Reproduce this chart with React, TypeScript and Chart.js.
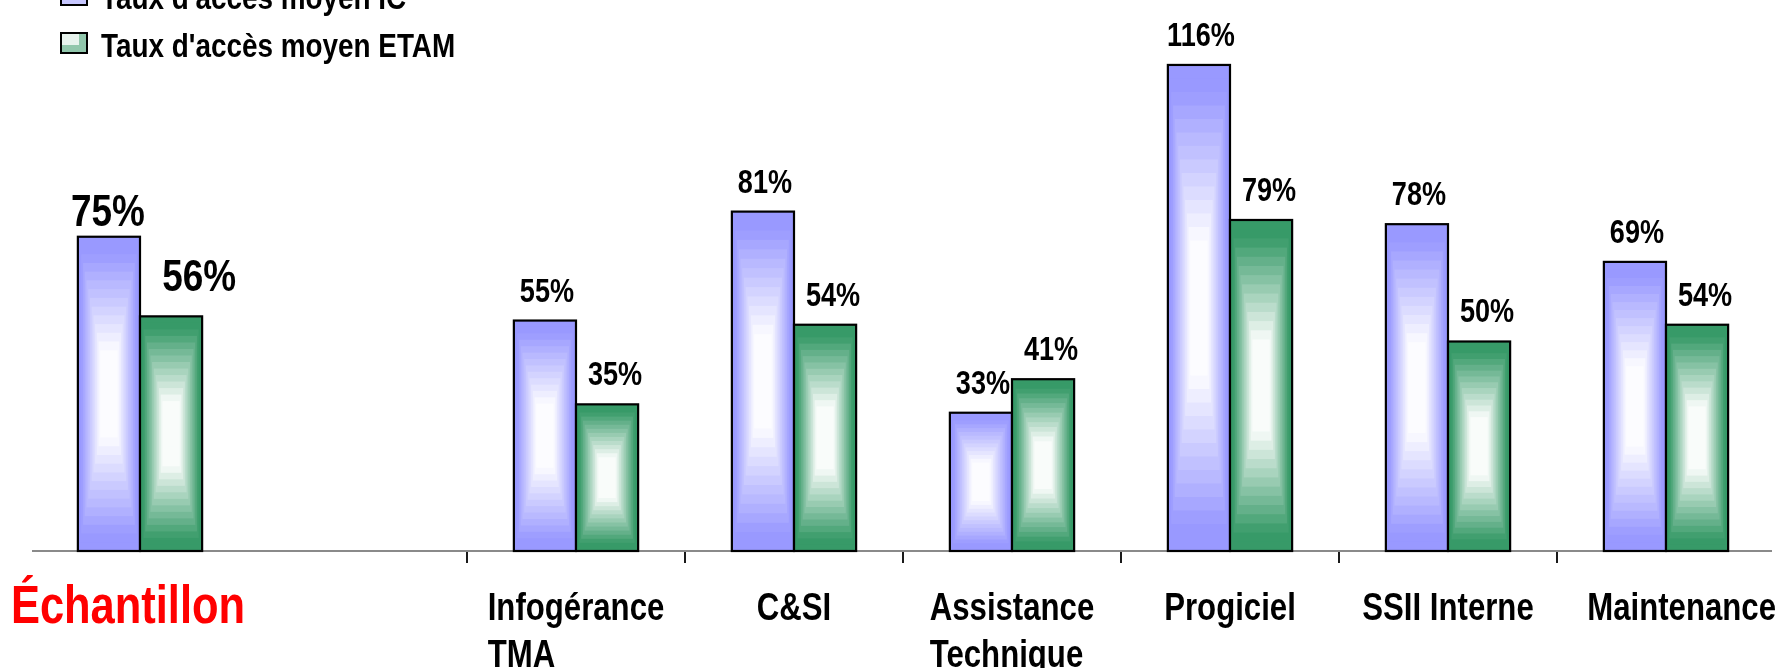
import React, { useEffect, useRef } from "react";
import { Chart, registerables } from "chart.js";

Chart.register(...registerables);

const categoryLines: string[][] = [
  ["Échantillon"],
  [""],
  ["Infogérance", "TMA"],
  ["C&SI"],
  ["Assistance", "Technique"],
  ["Progiciel"],
  ["SSII Interne"],
  ["Maintenance"],
];
const seriesNames = ["Taux d'accès moyen IC", "Taux d'accès moyen ETAM"];
const icValues: (number | null)[] = [75, null, 55, 81, 33, 116, 78, 69];
const etamValues: (number | null)[] = [56, null, 35, 54, 41, 79, 50, 54];

const EDGE_COLORS = ["#9999ff", "#379a68"];
const FONT = '"Liberation Sans", Arial, sans-serif';
const NARROW = 0.82;

function hexToRgb(h: string) {
  const v = parseInt(h.slice(1), 16);
  return [(v >> 16) & 255, (v >> 8) & 255, v & 255];
}
function mix(hex: string, t: number) {
  const [r, g, b] = hexToRgb(hex);
  const m = (c: number) => Math.round(c + (255 - c) * t);
  return `rgb(${m(r)},${m(g)},${m(b)})`;
}

// draws condensed text (like Arial Narrow)
function narrowText(ctx: CanvasRenderingContext2D, text: string, x: number, y: number, align: "left" | "center") {
  const w = ctx.measureText(text).width * NARROW;
  const left = align === "center" ? x - w / 2 : x;
  ctx.save();
  ctx.textAlign = "left";
  ctx.translate(left, y);
  ctx.scale(NARROW, 1);
  ctx.fillText(text, 0, 0);
  ctx.restore();
  return w;
}

function drawGradRect(ctx: CanvasRenderingContext2D, left: number, top: number, right: number, bottom: number, edge: string) {
  const w = right - left;
  const h = bottom - top;
  const N = 18;
  for (let i = 0; i < N; i++) {
    const t = i / N;
    const s = Math.min(1, Math.max(0, (t - 0.08) / 0.62));
    const ix = (t * w) / 2;
    const iy = (t * h) / 2;
    ctx.fillStyle = mix(edge, s * 0.97);
    ctx.fillRect(left + ix, top + iy, w - 2 * ix, h - 2 * iy);
  }
}

const customPlugin = {
  id: "customDraw",
  beforeDatasetsDraw(chart: any) {
    const { ctx, chartArea } = chart;
    const xs = chart.scales.x;
    ctx.save();
    ctx.strokeStyle = "#8a8a8a";
    ctx.lineWidth = 2;
    ctx.beginPath();
    ctx.moveTo(chartArea.left + 1, chartArea.bottom);
    ctx.lineTo(chartArea.right - 3, chartArea.bottom);
    ctx.stroke();
    ctx.strokeStyle = "#1a1a1a";
    for (let i = 2; i < categoryLines.length; i++) {
      const xb = Math.round((xs.getPixelForValue(i - 1) + xs.getPixelForValue(i)) / 2);
      ctx.beginPath();
      ctx.moveTo(xb, chartArea.bottom + 1);
      ctx.lineTo(xb, chartArea.bottom + 12);
      ctx.stroke();
    }
    ctx.restore();
  },
  afterDatasetsDraw(chart: any) {
    const { ctx } = chart;
    ctx.save();
    chart.data.datasets.forEach((ds: any, di: number) => {
      const meta = chart.getDatasetMeta(di);
      meta.data.forEach((el: any, j: number) => {
        const v = ds.data[j];
        if (v === null || v === undefined) return;
        const p = el.getProps(["x", "y", "base", "width"], true);
        const left = p.x - p.width / 2;
        const right = p.x + p.width / 2;
        const top = p.y;
        const bottom = p.base;
        drawGradRect(ctx, left, top, right, bottom, EDGE_COLORS[di]);
        ctx.strokeStyle = "#000";
        ctx.lineWidth = 2.2;
        ctx.strokeRect(left, top, right - left, bottom - top);
        // value label
        const big = j === 0;
        ctx.fillStyle = "#000";
        ctx.font = `bold ${big ? 45 : 33}px ${FONT}`;
        ctx.textBaseline = "alphabetic";
        let dx = di === 0 ? 2 : 8;
        let gap = 19;
        if (big) {
          dx = di === 0 ? -1 : 28;
          gap = di === 0 ? 11 : 25;
        }
        narrowText(ctx, `${v}%`, p.x + dx, top - gap, "center");
      });
    });
    ctx.restore();
  },
  afterDraw(chart: any) {
    const { ctx, chartArea } = chart;
    const xs = chart.scales.x;
    ctx.save();
    ctx.textBaseline = "alphabetic";
    categoryLines.forEach((lines, i) => {
      const cx = xs.getPixelForValue(i);
      if (i === 0) {
        ctx.font = `bold 53px ${FONT}`;
        ctx.fillStyle = "#ff0000";
        narrowText(ctx, lines[0], cx - 12, chartArea.bottom + 72, "center");
        return;
      }
      ctx.font = `bold 38px ${FONT}`;
      ctx.fillStyle = "#000";
      const maxW = Math.max(...lines.map((l) => ctx.measureText(l).width)) * NARROW;
      let left = cx - maxW / 2;
      if (i === categoryLines.length - 1) left = Math.max(left, chart.width - 4 - maxW);
      lines.forEach((l, k) => {
        narrowText(ctx, l, left, chartArea.bottom + 69 + k * 47, "left");
      });
    });
    // legend
    ctx.font = `bold 34px ${FONT}`;
    seriesNames.forEach((name, k) => {
      const by = -15 + k * 48;
      const bx = 61;
      const edge = EDGE_COLORS[k];
      ctx.fillStyle = mix(edge, 0.45);
      ctx.fillRect(bx, by, 26, 20);
      ctx.fillStyle = mix(edge, 0.88);
      ctx.fillRect(bx + 1, by + 1, 17, 11);
      ctx.strokeStyle = "#000";
      ctx.lineWidth = 2;
      ctx.strokeRect(bx, by, 26, 20);
      ctx.fillStyle = "#000";
      narrowText(ctx, name, 101, 9 + k * 48, "left");
    });
    ctx.restore();
  },
};

export default function App() {
  const ref = useRef<HTMLCanvasElement>(null);
  useEffect(() => {
    document.body.style.margin = "0";
    const canvas = ref.current;
    if (!canvas) return;
    const chart = new Chart(canvas, {
      type: "bar",
      data: {
        labels: categoryLines.map((l) => l.join(" ")),
        datasets: [
          {
            label: seriesNames[0],
            data: icValues,
            backgroundColor: EDGE_COLORS[0],
            borderWidth: 0,
            categoryPercentage: 0.57,
            barPercentage: 1,
          },
          {
            label: seriesNames[1],
            data: etamValues,
            backgroundColor: EDGE_COLORS[1],
            borderWidth: 0,
            categoryPercentage: 0.57,
            barPercentage: 1,
          },
        ],
      },
      options: {
        responsive: false,
        animation: false,
        devicePixelRatio: 1,
        layout: { padding: { left: 31, right: 5, top: 0, bottom: 117 } },
        plugins: {
          legend: { display: false },
          tooltip: { enabled: false },
        },
        scales: {
          x: { display: false },
          y: { display: false, min: 0, max: 131.5 },
        },
      },
      plugins: [customPlugin],
    });
    return () => chart.destroy();
  }, []);
  return (
    <div style={{ width: 1780, height: 668, background: "#fff" }}>
      <canvas ref={ref} width={1780} height={668} style={{ display: "block" }} />
    </div>
  );
}
